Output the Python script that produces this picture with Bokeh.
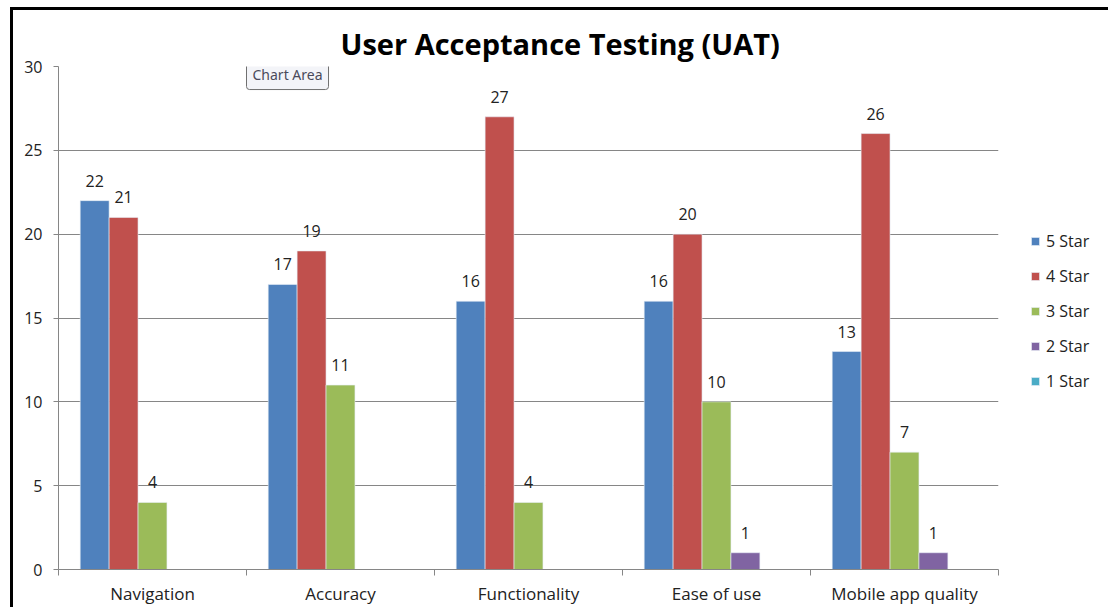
import numpy as np
from bokeh.plotting import figure
from bokeh.models import (Range1d, FixedTicker, ColumnDataSource, LabelSet, Legend,
                          LegendItem, Label)
from bokeh.core.properties import value
from bokeh.embed import file_html
from bokeh.resources import INLINE

categories = ["Navigation", "Accuracy", "Functionality", "Ease of use", "Mobile app quality"]
series_names = ["5 Star", "4 Star", "3 Star", "2 Star", "1 Star"]
star5 = [22, 17, 16, 16, 13]
star4 = [21, 19, 27, 20, 26]
star3 = [4, 11, 4, 10, 7]
star2 = [0, 0, 0, 1, 1]
star1 = [0, 0, 0, 0, 0]
series_values = [star5, star4, star3, star2, star1]
colors = ["#4F81BD", "#C0504D", "#9BBB59", "#8064A2", "#4BACC6"]
y_ticks = [0, 5, 10, 15, 20, 25, 30]

FONT = "Open Sans"
n_cat = len(categories)
n_ser = len(series_names)
bar_w = 1.0 / (n_ser + 1.5)
FW, FH = 940, 503

p = figure(frame_width=FW, frame_height=FH, output_backend="svg", toolbar_location=None,
           x_range=Range1d(0, n_cat), y_range=Range1d(0, 30),
           min_border_left=45, min_border_top=56, min_border_bottom=38,
           min_border_right=100)
p.styles = {"margin-left": "10px", "margin-top": "7px",
            "border-left": "3px solid black", "border-top": "3px solid black"}
p.outline_line_color = None
p.background_fill_color = "white"
p.border_fill_color = "white"

p.title.text = "User Acceptance Testing (UAT)"
p.title.text_font = FONT
p.title.text_font_size = "29px"
p.title.text_font_style = "bold"
p.title.text_color = "black"
p.title.align = "left"
p.title.offset = 282
p.title.standoff = 8

# x axis
centers = list(np.arange(n_cat) + 0.5)
xt = FixedTicker(ticks=centers, minor_ticks=list(range(n_cat + 1)))
p.xaxis.ticker = xt
p.xaxis.major_label_overrides = {float(c): categories[i] for i, c in enumerate(centers)}
p.xaxis.major_tick_out = 0
p.xaxis.major_tick_in = 0
p.xaxis.minor_tick_out = 6
p.xaxis.minor_tick_in = 0
p.xaxis.axis_line_color = "#868686"
p.xaxis.minor_tick_line_color = "#868686"
p.xaxis.major_label_text_font = FONT
p.xaxis.major_label_text_font_size = "17px"
p.xaxis.major_label_text_color = "#222222"
p.xaxis.major_label_standoff = 6

# y axis
p.yaxis.ticker = FixedTicker(ticks=y_ticks)
p.yaxis.major_tick_out = 5
p.yaxis.major_tick_in = 0
p.yaxis.minor_tick_line_color = None
p.yaxis.axis_line_color = "#868686"
p.yaxis.major_tick_line_color = "#868686"
p.yaxis.major_label_text_font = FONT
p.yaxis.major_label_text_font_size = "16px"
p.yaxis.major_label_text_color = "#222222"
p.yaxis.major_label_standoff = 11

p.xgrid.grid_line_color = None
p.ygrid.grid_line_color = "#868686"
p.ygrid.ticker = FixedTicker(ticks=y_ticks[1:])

items = []
for j, (name, vals, col) in enumerate(zip(series_names, series_values, colors)):
    xs = np.arange(n_cat) + 0.5 + (j - (n_ser - 1) / 2) * bar_w
    src = ColumnDataSource(dict(x=xs, top=vals))
    r = p.vbar(x="x", top="top", width=bar_w, source=src, fill_color=col,
               line_color="#e8eef6", line_width=0.6)
    items.append(LegendItem(label=name, renderers=[r]))
    nz = [i for i, v in enumerate(vals) if v > 0]
    lsrc = ColumnDataSource(dict(x=[xs[i] for i in nz], y=[vals[i] for i in nz],
                                 t=[str(vals[i]) for i in nz]))
    p.add_layout(LabelSet(x="x", y="y", text="t", source=lsrc, text_align="center",
                          text_baseline="bottom", y_offset=14, text_font=value(FONT),
                          text_font_size="16px", text_color="#222222"))

legend = Legend(items=items, location=(32, 177), border_line_color=None,
                background_fill_alpha=0, glyph_width=10, glyph_height=10,
                label_standoff=6, spacing=13, padding=0, margin=0,
                label_text_font=FONT, label_text_font_size="16px",
                label_text_color="#222222")
p.add_layout(legend, "right")

tip = Label(x=1.0, y=29.55, text="Chart Area", text_align="left", text_baseline="middle",
            text_font="Noto Sans", text_font_size="14px", text_color="#4a4a5a",
            background_fill_color="#f3f4f8", border_line_color="#707070",
            padding=6, border_radius=3)
p.add_layout(tip)

open("out.html", "w").write(file_html(p, INLINE))
